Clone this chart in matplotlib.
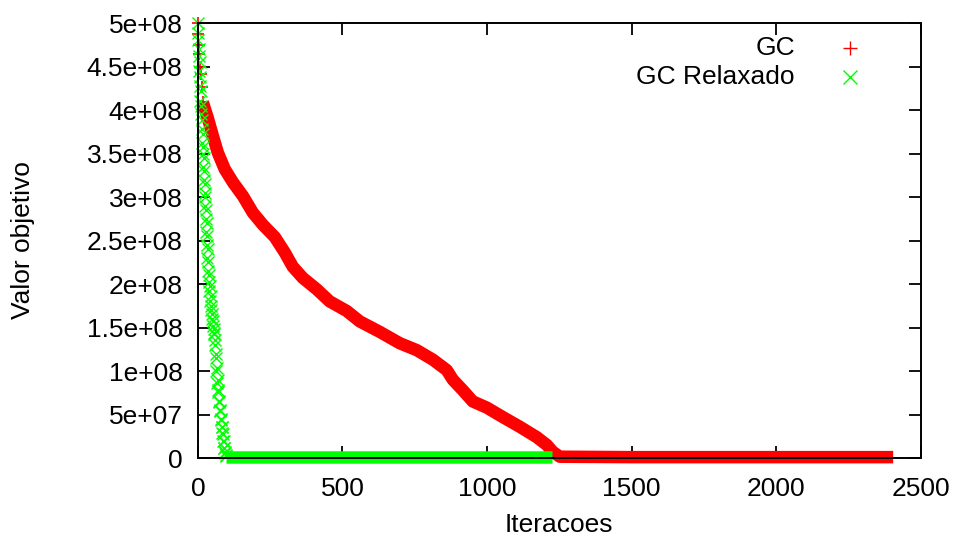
import matplotlib
matplotlib.use("Agg")
from matplotlib import pyplot

# GC: first iterations (sparse markers), then the dense descent, then the plateau
gc_early_it = [0, 1, 3, 5, 8, 10, 14, 17]
gc_early_val = [5.0e8, 4.87e8, 4.75e8, 4.64e8, 4.49e8, 4.41e8, 4.26e8, 4.09e8]

gc_it = [17, 35, 52, 69, 93, 121, 156, 190, 225, 266, 301, 328, 363, 411,
         456, 515, 560, 629, 698, 757, 813, 861, 882, 916, 951, 999, 1055,
         1113, 1172, 1207, 1228, 1252, 1500, 2000, 2405]
gc_val = [4.09e8, 3.90e8, 3.70e8, 3.51e8, 3.32e8, 3.17e8, 3.01e8, 2.82e8,
          2.68e8, 2.54e8, 2.36e8, 2.20e8, 2.07e8, 1.94e8, 1.80e8, 1.69e8,
          1.57e8, 1.45e8, 1.32e8, 1.24e8, 1.13e8, 1.01e8, 0.90e8, 0.78e8,
          0.65e8, 0.58e8, 0.47e8, 0.36e8, 0.24e8, 0.15e8, 0.07e8, 0.015e8,
          0.01e8, 0.01e8, 0.01e8]

# GC Relaxado: fast, oscillating descent, then plateau
gcr_it = [0, 1, 2, 3, 4, 5, 6, 7, 8, 9, 10, 11, 12, 13, 14, 15, 16, 17, 18,
          19, 20, 21, 22, 23, 24, 25, 26, 27, 28, 29, 30, 31, 32, 33, 34, 35,
          36, 37, 38, 40, 41, 43, 44, 46, 47, 49, 50, 52, 53, 55, 56, 57, 58,
          59, 61, 62, 64, 65, 67, 68, 70, 71, 73, 74, 76, 77, 79, 80, 82, 83,
          85, 86, 88, 89, 91, 92, 94, 95, 97, 98]
gcr_val = [5.00e8, 4.80e8, 4.88e8, 4.62e8, 4.70e8, 4.45e8, 4.55e8, 4.28e8,
           4.38e8, 4.10e8, 4.22e8, 3.95e8, 4.05e8, 3.78e8, 3.88e8, 3.62e8,
           3.72e8, 3.50e8, 3.58e8, 3.35e8, 3.45e8, 3.20e8, 3.30e8, 3.05e8,
           3.15e8, 2.90e8, 3.00e8, 2.75e8, 2.85e8, 2.60e8, 2.70e8, 2.45e8,
           2.55e8, 2.30e8, 2.40e8, 2.15e8, 2.25e8, 2.02e8, 2.10e8, 1.92e8,
           1.98e8, 1.80e8, 1.86e8, 1.70e8, 1.75e8, 1.60e8, 1.66e8, 1.52e8,
           1.57e8, 1.44e8, 1.42e8, 1.48e8, 1.30e8, 1.36e8, 1.15e8, 1.20e8,
           1.00e8, 1.04e8, 0.86e8, 0.90e8, 0.76e8, 0.78e8, 0.64e8, 0.66e8,
           0.54e8, 0.55e8, 0.44e8, 0.45e8, 0.36e8, 0.36e8, 0.29e8, 0.28e8,
           0.20e8, 0.19e8, 0.12e8, 0.12e8, 0.07e8, 0.06e8, 0.03e8, 0.02e8]
gcr_flat_it = [97, 1224]
gcr_flat_val = [0.017e8, 0.017e8]

xticks = [0, 500, 1000, 1500, 2000, 2500]
yticks = [0, 0.5e8, 1e8, 1.5e8, 2e8, 2.5e8, 3e8, 3.5e8, 4e8, 4.5e8, 5e8]
ytick_labels = ["0", "5e+07", "1e+08", "1.5e+08", "2e+08", "2.5e+08",
                "3e+08", "3.5e+08", "4e+08", "4.5e+08", "5e+08"]

RED = "#ff0000"
GREEN = "#00ff00"
FS = 19

pyplot.rcParams["font.family"] = ["Liberation Sans", "DejaVu Sans"]
fig = pyplot.figure(figsize=(9.56, 5.36), dpi=100)
ax = fig.add_axes([0.207, 0.1455, 0.756, 0.8115])

ax.plot(gc_early_it, gc_early_val, ls="none", marker="+", ms=9, mew=1.2,
        color=RED, clip_on=False)
ax.plot(gc_it, gc_val, color=RED, lw=9, solid_capstyle="butt",
        solid_joinstyle="round", clip_on=False)

ax.plot(gcr_it, gcr_val, ls="none", marker="x", ms=8, mew=1.0,
        color=GREEN, clip_on=False)
ax.plot(gcr_flat_it, gcr_flat_val, color=GREEN, lw=9, solid_capstyle="butt",
        clip_on=False)

ax.set_xlim(0, 2500)
ax.set_ylim(0, 5e8)
ax.set_xticks(xticks)
ax.set_xticklabels([str(t) for t in xticks])
ax.set_yticks(yticks)
ax.set_yticklabels(ytick_labels)
ax.tick_params(direction="in", length=8.5, width=1.3, top=True, right=True,
               labelsize=FS)
ax.tick_params(axis="x", pad=14)
ax.tick_params(axis="y", pad=11)
for s in ax.spines.values():
    s.set_linewidth(1.4)
    s.set_zorder(5)

ax.set_xlabel("Iteracoes", fontsize=FS)
ax.set_ylabel("Valor objetivo", fontsize=FS)
ax.xaxis.set_label_coords(0.5, -0.126)
ax.yaxis.set_label_coords(-0.226, 0.5)

# gnuplot-style key: right-aligned text, sample to the right
ax.text(0.826, 0.943, "GC", transform=ax.transAxes, ha="right", va="center",
        fontsize=FS)
ax.text(0.826, 0.876, "GC Relaxado", transform=ax.transAxes, ha="right",
        va="center", fontsize=FS)
ax.plot([0.902], [0.943], transform=ax.transAxes, marker="+", ms=9.5, mew=1,
        color=RED, clip_on=False)
ax.plot([0.902], [0.876], transform=ax.transAxes, marker="x", ms=9.5, mew=1,
        color=GREEN, clip_on=False)

fig.savefig("out.png", dpi=100)
